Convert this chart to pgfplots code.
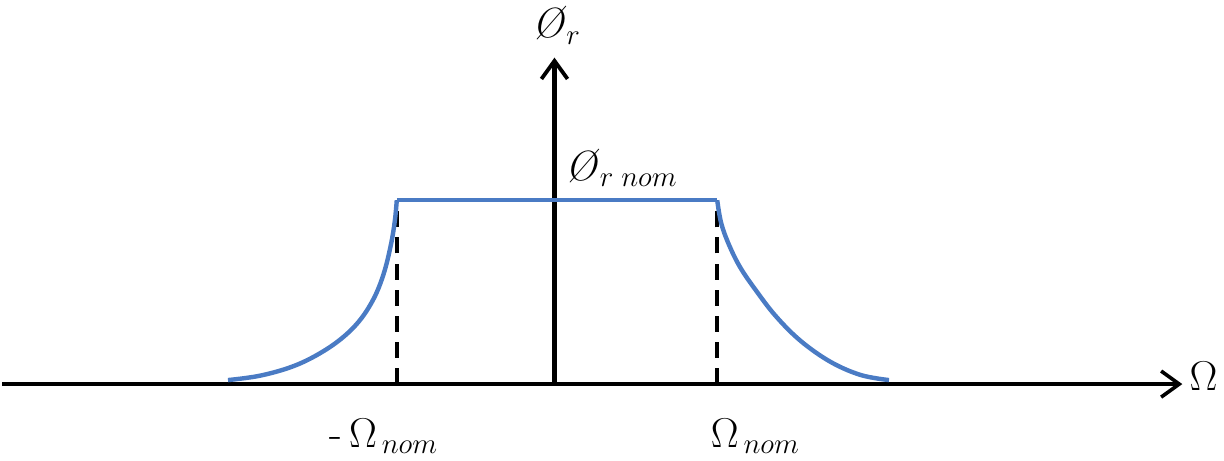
\documentclass[border=0pt]{standalone}
\usepackage{pgfplots}
\pgfplotsset{compat=1.18}
\usetikzlibrary{arrows.meta}
\definecolor{fluxblue}{HTML}{4A7BC4}

% field-weakening branch, negative speed
\pgfplotstableread{
x y
-325 4
-295 8
-265 16
-240 27
-215 43
-195 62
-180 85
-170 110
-163 138
-159 162
-157 183
}\fluxleft

% field-weakening branch, positive speed
\pgfplotstableread{
x y
162 183
166 160
174 138
185 116
200 94
220 68
245 43
275 22
305 9
333 4
}\fluxright

\begin{document}
\begin{tikzpicture}
\begin{axis}[
  scale only axis,
  width=612pt, height=223pt,
  xmin=-560, xmax=664,
  ymin=-69, ymax=377,
  hide axis,
  clip=false,
]
% horizontal axis with arrow
\addplot[black, line width=2pt, -{Straight Barb[length=9pt,width=13pt,line width=1.8pt]}]
  coordinates {(-550,0) (625,0)};
% vertical axis with arrow
\addplot[black, line width=2.2pt, -{Straight Barb[length=9pt,width=13pt,line width=1.9pt]}]
  coordinates {(0,0) (0,325)};
% dashed markers at the nominal speeds
\addplot[black, line width=2.2pt, dash pattern=on 8pt off 5pt]
  coordinates {(-157,0) (-157,183)};
\addplot[black, line width=2.2pt, dash pattern=on 8pt off 5pt]
  coordinates {(162,0) (162,183)};
% flux characteristic
\addplot[fluxblue, line width=2.2pt, smooth, tension=0.6] table {\fluxleft};
\addplot[fluxblue, line width=2.2pt] coordinates {(-157,183) (162,183)};
\addplot[fluxblue, line width=2.2pt, smooth, tension=0.6] table {\fluxright};

% labels
\node[font=\fontsize{21}{23}\selectfont] at (axis cs:2,357) {\textit{Ø}$_{r}$};
\node[font=\fontsize{21}{23}\selectfont, anchor=west] at (axis cs:4,215) {\textit{Ø}$_{r\;nom}$};
\node[font=\fontsize{21}{23}\selectfont] at (axis cs:646,8) {$\Omega$};
\node[font=\fontsize{21}{23}\selectfont] at (axis cs:-170,-52) {-\,$\Omega_{\,nom}$};
\node[font=\fontsize{21}{23}\selectfont] at (axis cs:200,-52) {$\Omega_{\,nom}$};
\end{axis}
\end{tikzpicture}
\end{document}
